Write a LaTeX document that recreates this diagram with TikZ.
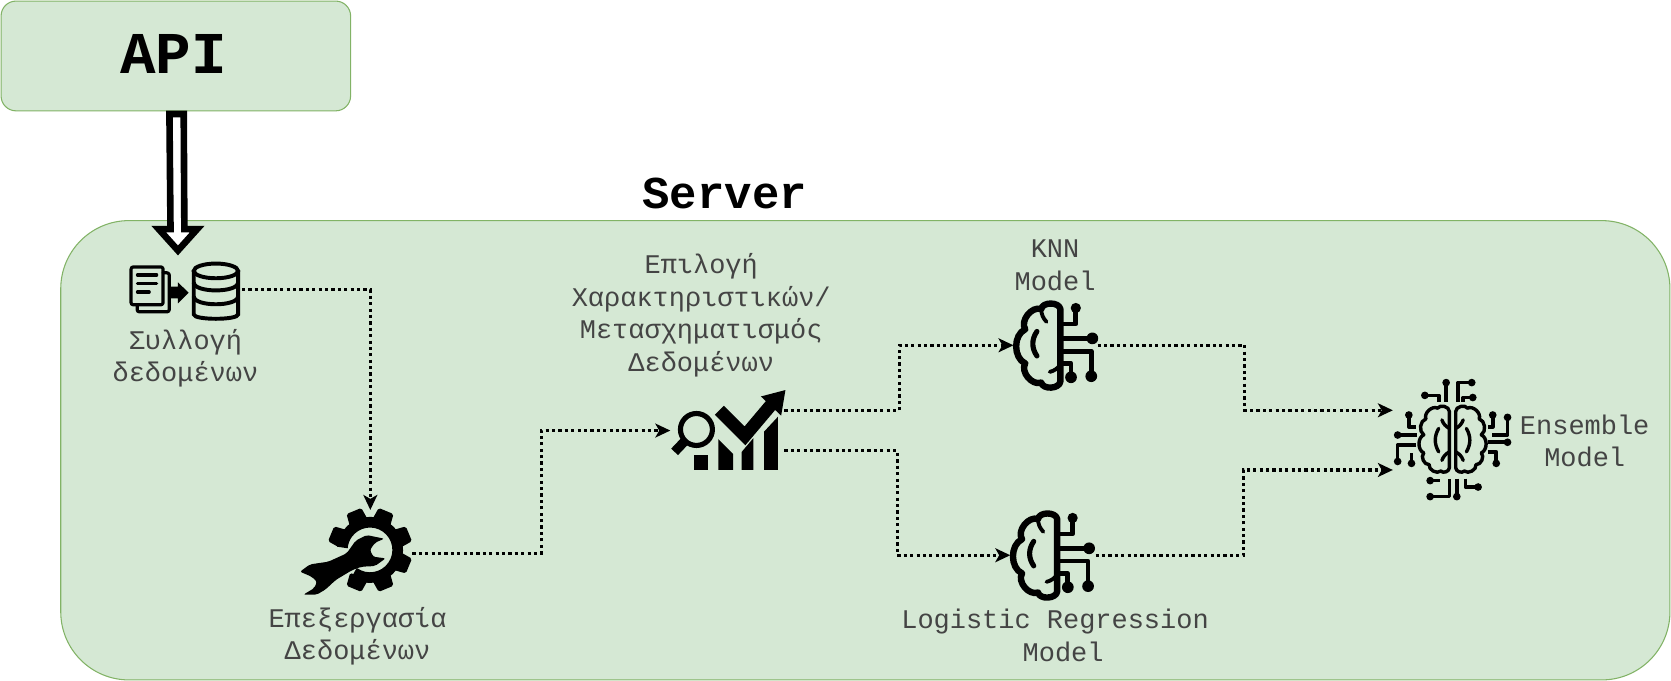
\documentclass[tikz,border=0pt]{standalone}
\usepackage{fontspec}
\newfontfamily\monof{Liberation Mono}
\usetikzlibrary{arrows.meta}
\definecolor{boxfill}{HTML}{D5E8D4}
\definecolor{boxline}{HTML}{82B366}
\definecolor{labelgray}{HTML}{444444}
\tikzset{
  greenbox/.style={fill=boxfill,draw=boxline,line width=0.5pt},
  bodylabel/.style={inner sep=0,align=center,text=labelgray,font={\fontsize{12.65}{15.25}\selectfont\monof}},
  serverlabel/.style={inner sep=0,font={\fontsize{21.4}{25}\selectfont\monof\bfseries}},
  apilabel/.style={inner sep=0,font={\fontsize{27.8}{32}\selectfont\monof\bfseries}},
  flow/.style={draw=black,line width=1.5pt,dash pattern=on 1.5pt off 1.5pt,
    -{Stealth[length=7pt,width=6.5pt,inset=1.8pt]}},
  hollowarrow/.style={fill=white,draw=black,line width=3.1pt,miter limit=10},
  knnbrain/.pic={
    \begin{scope}[line width=3pt,line cap=round,line join=round]
      \draw (995,290) to[bend right=80] (977,290) to[bend right=70] (962,309)
        to[bend right=65] (962,341) to[bend right=70] (977,359) to[bend right=80] (995,358) -- cycle;
      \draw[line width=2.4pt] (973,311) to[bend right=35] (973,334);
      \draw[line width=1.8pt] (977,290) to[bend right=20] (982,302);
      \draw[line width=1.8pt] (995,342) to[bend left=20] (985,349);
      \draw[line width=2.2pt] (995,304) -- (1009.5,304) -- (1009.5,290);
      \draw[line width=2.2pt] (995,317.5) -- (1025,317.5);
      \draw[line width=2.2pt] (995,329.5) -- (1024,329.5) -- (1024,353);
      \draw[line width=2.2pt] (995,341) -- (1005,341) -- (1005,354);
    \end{scope}
    \fill (1009.5,289) circle[radius=4.8];
    \fill (1025,317.5) circle[radius=5.5];
    \fill (1024,353) circle[radius=5.5];
    \fill (1005,354) circle[radius=5.5];
  },
  halfbrain/.pic={
    \begin{scope}[line width=1.6pt,line cap=round,line join=round]
      \draw (-3,386) to[bend right=75] (-14,383) to[bend right=70] (-25,393)
        to[bend right=65] (-27,408) to[bend right=65] (-27,425) to[bend right=70] (-22,436) to[bend right=70] (-11,442) to[bend right=70] (-3,439) -- cycle;
      \draw (-13,402) to[bend right=30] (-13,424);
      \draw (-3,402) to[bend left=20] (-10,394);
      \draw (-3,424) to[bend right=20] (-10,432);
    \end{scope}
  }
}
\begin{document}
\begin{tikzpicture}[x=0.5pt,y=-0.5pt]
\useasboundingbox (0,0) rectangle (1568,639);
% boxes
\node[greenbox,rounded corners=7pt,minimum width=164pt,minimum height=51.5pt,inner sep=0,anchor=north west] (api) at (0.5,0.5) {};
\node[greenbox,rounded corners=32pt,minimum width=755pt,minimum height=215.5pt,inner sep=0,anchor=north west] (server) at (56.5,206.5) {};
\node[apilabel] (apitext) at (163,51) {API};
\node[serverlabel] (servertext) at (680,182) {Server};
% ports
\coordinate (dbOut) at (227,272);
\coordinate (gearIn) at (347.5,478.5);
\coordinate (gearOut) at (387,519);
\coordinate (chartIn) at (629,404);
\coordinate (chartOutA) at (736,385);
\coordinate (chartOutB) at (736,423);
\coordinate (knnIn) at (951,324);
\coordinate (knnOut) at (1030,324);
\coordinate (lrIn) at (948,521);
\coordinate (lrOut) at (1028,521);
\coordinate (ensInA) at (1307,385);
\coordinate (ensInB) at (1307,441);
% big arrow
\draw[hollowarrow] (159,107) -- (172.4,107) -- (173,215) -- (185,215) -- (167,235) -- (149,215) -- (160,215) -- cycle;
% documents + database
\begin{scope}[line width=1.5pt,line join=round,line cap=round]
  \draw[rounded corners=1pt] (153,256) -- (158.8,256) -- (158.8,292.6) -- (128.7,292.6) -- (128.7,286);
  \draw[rounded corners=1pt] (123,250.5) rectangle (153,286);
  \draw (129,258) -- (147,258) (129,266) -- (147,266) (129,274) -- (140,274);
\end{scope}
\fill (158.8,269) -- (167,269) -- (167,265) -- (177,274.6) -- (167,284.6) -- (167,280) -- (158.8,280) -- cycle;
\begin{scope}[line width=1.85pt]
  \draw (202.6,254.2) ellipse[x radius=20.8,y radius=6.9];
  \draw[rounded corners=2pt] (181.8,254) -- (181.8,291) .. controls (181.8,300.5) and (223.4,300.5) .. (223.4,291) -- (223.4,254);
  \draw (181.8,265) .. controls (181.8,275) and (223.4,275) .. (223.4,265);
  \draw (181.8,278) .. controls (181.8,288) and (223.4,288) .. (223.4,278);
\end{scope}
% gear + wrench
\begin{scope}[shift={(347.2,516)},x=0.5pt,y=0.5pt]
  \draw[line width=5pt] (-125:26) arc[start angle=-125,end angle=175,radius=26];
  \foreach \a in {22.5,67.5,112.5,157.5,-22.5,-67.5,-112.5}
    \fill[rotate=\a,rounded corners=0.8pt] (27,-9) -- (39.5,-7.5) -- (39.5,7.5) -- (27,9) -- cycle;
\end{scope}
\begin{scope}[shift={(276.8,469.2)},x=0.1564pt,y=-0.1564pt]
  \fill[rounded corners=1pt] (15,215) -- (45,193) -- (100,185) -- (155,160) -- (182,122) -- (215,105) -- (268,116)
    -- (240,128) -- (225,150) -- (235,170) -- (272,175) -- (240,198) -- (200,200) -- (172,210) -- (122,240)
    -- (92,268) -- (65,284) -- (25,284) -- (58,264) -- (66,245) -- (50,230) -- cycle;
\end{scope}
% chart
\draw[line width=2.4pt] (653.5,403) circle[radius=15];
\draw[line width=4.4pt] (642.5,414) -- (633,424);
\fill (651,427) rectangle (664,441);
\fill (674,412) -- (688,426) -- (688,441) -- (674,441) -- cycle;
\fill (696,424) -- (707,411) -- (707,441) -- (696,441) -- cycle;
\fill (717,405) -- (730,391) -- (730,441) -- (717,441) -- cycle;
\draw[line width=6pt,miter limit=10] (675,385) -- (699,409) -- (726,377);
\fill (737,366) -- (714,372) -- (733,390) -- cycle;
% brains
\pic at (0,0) {knnbrain};
\pic at (-3,197) {knnbrain};
\pic at (1363,0) {halfbrain};
\pic[xscale=-1] at (1363,0) {halfbrain};
\begin{scope}[line width=1.7pt,line join=round]
  \draw (1337,371) -- (1350,371) -- (1350,377);
  \draw (1357,359) -- (1357,377);
  \draw (1368,377) -- (1368,359) -- (1381,359);
  \draw (1382,373) -- (1373,373) -- (1373,377);
  \draw (1342,451) -- (1351,451);
  \draw (1342,466) -- (1360,466) -- (1360,449);
  \draw (1367,449) -- (1367,466);
  \draw (1375,449) -- (1375,457) -- (1387,457);
  \draw (1322,389) -- (1322,400.6) -- (1329,400.6);
  \draw (1311.5,408.2) -- (1330,408.2);
  \draw (1329,417.6) -- (1311.5,417.6) -- (1311.5,433);
  \draw (1324.5,434.8) -- (1324.5,425);
  \draw (1400.7,389) -- (1400.7,400.6) -- (1396,400.6);
  \draw (1414.6,391) -- (1414.6,408) -- (1400,408);
  \draw (1396,415) -- (1414.6,415);
  \draw (1396,424) -- (1404,424) -- (1404,434.8);
\end{scope}
\foreach \px/\py in {1337/371,1357/359,1381/359,1382/373,1342/451,1342/466,1367/466,1387/457,1322/389.4,1311.5/408.2,1311.5/433,1324.5/434.8,1400.7/389.4,1414.6/391.6,1414.6/415,1404/434.8}
  \fill (\px,\py) circle[radius=3.6];
% connectors
\draw[flow] (dbOut) -| (gearIn);
\draw[flow] (gearOut) -- ++(121,0) |- (chartIn);
\draw[flow] (chartOutA) -- ++(108,0) |- (knnIn);
\draw[flow] (chartOutB) -- ++(106,0) |- (lrIn);
\draw[flow] (knnOut) -- ++(138,0) |- (ensInA);
\draw[flow] (lrOut) -- ++(139,0) |- (ensInB);
% labels
\node[bodylabel] (l1) at (174,336) {Συλλογή\\δεδομένων};
\node[bodylabel] (l2) at (335.5,597) {Επεξεργασία\\Δεδομένων};
\node[bodylabel] (l3) at (658,296) {Επιλογή\\Χαρακτηριστικών/\\Μετασχηματισμός\\Δεδομένων};
\node[bodylabel] (l4) at (990,249) {KNN\\Model};
\node[bodylabel] (l5) at (990,596) {Logistic Regression\\\hspace*{0.6em}Model};
\node[bodylabel] (l6) at (1487,413.5) {Ensemble\\Model};
\end{tikzpicture}
\end{document}
